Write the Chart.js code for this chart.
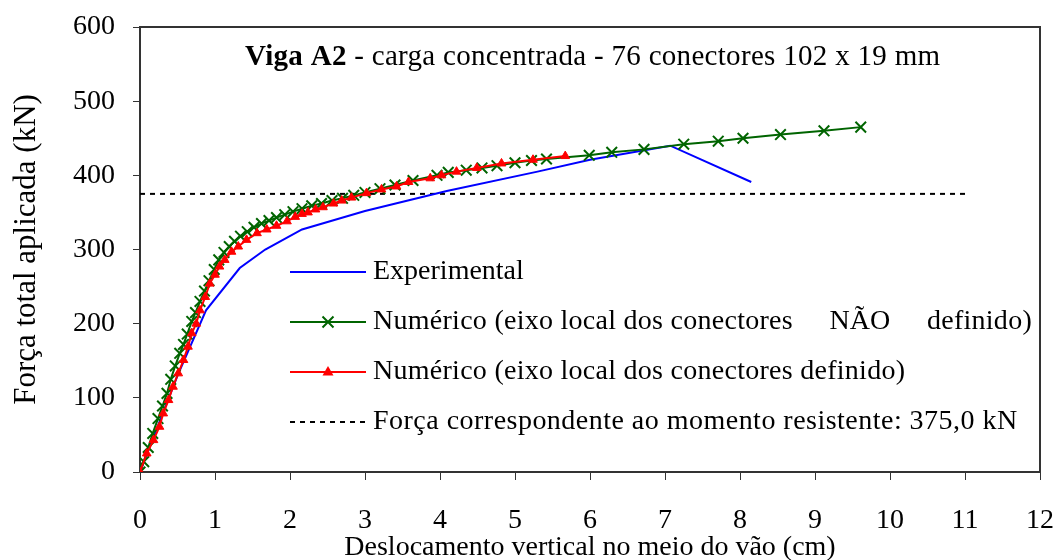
<!DOCTYPE html>
<html>
<head>
<meta charset="utf-8">
<script src="https://cdn.jsdelivr.net/npm/chart.js@4.4.1/dist/chart.umd.min.js"></script>
<style>
  html, body { margin: 0; padding: 0; background: #fff; }
  #wrap { width: 1057px; height: 560px; }
</style>
</head>
<body>
<div id="wrap"><canvas id="chart" width="1057" height="560"></canvas></div>
<script>
// values
var expX = [0, 0.5, 0.88, 1.33, 1.67, 2.16, 3.0, 4.09, 5.3, 6.0, 7.07, 8.15];
var expY = [0, 130, 218, 275, 300, 327, 352, 379, 405, 421, 440, 391];

var nnX = [0, 0.05, 0.11, 0.17, 0.24, 0.3, 0.36, 0.41, 0.47, 0.53, 0.58, 0.63, 0.69, 0.74, 0.8, 0.86, 0.92, 0.99, 1.05, 1.12, 1.19, 1.26, 1.34, 1.43, 1.52, 1.62, 1.72, 1.82, 1.93, 2.04, 2.16, 2.29, 2.42, 2.56, 2.7, 2.85, 3.0, 3.2, 3.4, 3.64, 3.96, 4.11, 4.35, 4.56, 4.76, 5.0, 5.22, 5.42, 5.99, 6.29, 6.72, 7.25, 7.71, 8.04, 8.54, 9.12, 9.61];
var nnY = [0, 14, 33, 52, 72, 89, 106, 125, 143, 160, 172, 186, 203, 215, 230, 244, 258, 273, 286, 296, 304, 311, 318, 324, 330, 335, 339, 343, 347, 351, 355, 359, 362, 366, 369, 373, 377, 382, 387, 393, 400, 404, 407, 410, 413, 417, 420, 422, 427, 431, 435, 442, 446, 450, 455, 460, 465];

var ndX = [0, 0.09, 0.18, 0.26, 0.31, 0.38, 0.44, 0.51, 0.58, 0.64, 0.69, 0.75, 0.8, 0.87, 0.93, 1.0, 1.06, 1.13, 1.22, 1.31, 1.42, 1.56, 1.69, 1.82, 1.96, 2.07, 2.16, 2.24, 2.34, 2.44, 2.58, 2.69, 2.82, 3.02, 3.22, 3.42, 3.58, 3.87, 4.02, 4.22, 4.49, 4.82, 5.24, 5.67];
var ndY = [0, 25, 43, 61, 79, 97, 115, 133, 151, 169, 187, 200, 218, 236, 254, 266, 277, 286, 297, 304, 313, 322, 327, 332, 338, 344, 348, 350, 354, 357, 362, 366, 370, 376, 381, 385, 391, 396, 400, 405, 410, 416, 421, 426];

var limitX = [0, 11];
var limitY = [375, 375];

var seriesNames = [
  "Experimental",
  "Numérico (eixo local dos conectores NÃO definido)",
  "Numérico (eixo local dos conectores definido)",
  "Força correspondente ao momento resistente: 375,0 kN"
];
var xTicks = [0, 1, 2, 3, 4, 5, 6, 7, 8, 9, 10, 11, 12];
var yTicks = [0, 100, 200, 300, 400, 500, 600];

var FONT = '"Liberation Serif", "Times New Roman", serif';
var BLUE = "#0000ff", GREEN = "#006400", RED = "#ff0000";

function pts(xs, ys) {
  return xs.map(function (x, i) { return { x: x, y: ys[i] }; });
}

// widen a string a little (the original text is set looser than Liberation Serif)
function spacedText(ctx, text, x, y, ls) {
  ctx.letterSpacing = ls + "px";
  ctx.fillText(text, x, y);
  var w = ctx.measureText(text).width;
  ctx.letterSpacing = "0px";
  return w;
}

// box round the plot, title and legend inside the plot
var boxPlugin = {
  id: "box",
  beforeDatasetsDraw: function (chart) {
    var a = chart.chartArea, ctx = chart.ctx;
    ctx.save();
    ctx.strokeStyle = "#333";
    ctx.lineWidth = 2;
    ctx.strokeRect(a.left, a.top, a.right - a.left, a.bottom - a.top);
    ctx.restore();
  },
  afterDraw: function (chart) {
    var ctx = chart.ctx;
    ctx.save();
    ctx.fillStyle = "#000";
    ctx.textBaseline = "alphabetic";
    ctx.font = "bold 29px " + FONT;
    var w = spacedText(ctx, "Viga A2", 245, 65, 0.3);
    ctx.font = "29px " + FONT;
    spacedText(ctx, " - carga concentrada - 76 conectores 102 x 19 mm", 245 + w, 65, 0.3);

    // legend
    var rows = [272, 322, 372, 422];
    var x0 = 290, x1 = 366, mx = 328, tx = 373;
    ctx.font = "28px " + FONT;
    ctx.textBaseline = "middle";
    for (var i = 0; i < 4; i++) {
      var y = rows[i];
      ctx.beginPath();
      ctx.lineWidth = 2;
      if (i === 3) {
        ctx.setLineDash([5, 5]);
        ctx.strokeStyle = "#000";
      } else {
        ctx.setLineDash([]);
        ctx.strokeStyle = [BLUE, GREEN, RED][i];
      }
      ctx.moveTo(x0, y);
      ctx.lineTo(x1, y);
      ctx.stroke();
      ctx.setLineDash([]);
      if (i === 1) {
        ctx.beginPath();
        ctx.strokeStyle = GREEN;
        ctx.moveTo(mx - 5.5, y - 5.5); ctx.lineTo(mx + 5.5, y + 5.5);
        ctx.moveTo(mx - 5.5, y + 5.5); ctx.lineTo(mx + 5.5, y - 5.5);
        ctx.stroke();
      }
      if (i === 2) {
        ctx.beginPath();
        ctx.fillStyle = RED;
        ctx.moveTo(mx, y - 6); ctx.lineTo(mx + 5.5, y + 3.5); ctx.lineTo(mx - 5.5, y + 3.5);
        ctx.closePath();
        ctx.fill();
      }
      ctx.fillStyle = "#000";
      if (i === 1) {
        // wider gaps round "NÃO": the line ends by the frame in the original
        var pre = "Numérico (eixo local dos conectores ";
        var post = " definido)";
        var a = spacedText(ctx, pre, tx, y, 0.27);
        ctx.letterSpacing = "0.27px";
        var c = ctx.measureText(post).width;
        ctx.letterSpacing = "0px";
        var natural = ctx.measureText("NÃO").width;
        var room = 1032 - tx - a - c;
        var gap = Math.max(0, (room - natural) / 2);
        ctx.fillText("NÃO", tx + a + gap, y);
        spacedText(ctx, post, tx + a + natural + 2 * gap, y, 0.27);
      } else {
        spacedText(ctx, seriesNames[i], tx, y, [0, 0, 0.27, 0.48][i]);
      }
    }
    ctx.restore();
  }
};

var ctx = document.getElementById("chart").getContext("2d");
var chart = new Chart(ctx, {
  type: "line",
  data: {
    datasets: [
      {
        label: seriesNames[0],
        data: pts(expX, expY),
        borderColor: BLUE,
        borderWidth: 2,
        pointRadius: 0,
        order: 2
      },
      {
        label: seriesNames[1],
        data: pts(nnX, nnY),
        borderColor: GREEN,
        borderWidth: 2,
        pointStyle: "crossRot",
        pointRadius: 7.5,
        pointBorderWidth: 2,
        pointBorderColor: GREEN,
        order: 1
      },
      {
        label: seriesNames[2],
        data: pts(ndX, ndY),
        borderColor: RED,
        borderWidth: 2,
        pointStyle: "triangle",
        pointRadius: 5,
        pointBackgroundColor: RED,
        pointBorderColor: RED,
        pointBorderWidth: 1,
        order: 0
      },
      {
        label: seriesNames[3],
        data: pts(limitX, limitY),
        borderColor: "#000",
        borderWidth: 2,
        borderDash: [5, 5],
        pointRadius: 0,
        order: 3
      }
    ]
  },
  options: {
    responsive: false,
    animation: false,
    layout: { padding: { left: 0, right: 17, top: 27, bottom: 0 } },
    plugins: {
      legend: { display: false },
      tooltip: { enabled: false }
    },
    scales: {
      x: {
        type: "linear",
        min: 0,
        max: 12,
        afterBuildTicks: function (s) { s.ticks = xTicks.map(function (v) { return { value: v }; }); },
        afterFit: function (s) {
          s.height = 88;
          s.paddingLeft = 0;
          s.paddingRight = 0;
        },
        ticks: { color: "#000", font: { family: FONT, size: 28 }, padding: 24, maxRotation: 0 },
        grid: { drawOnChartArea: false, drawTicks: true, tickLength: 8, color: "#333", lineWidth: 1 },
        border: { display: true, color: "#333", width: 2 },
        title: {
          display: true,
          text: "Deslocamento vertical no meio do vão (cm)",
          color: "#000",
          font: { family: FONT, size: 28, lineHeight: 1 },
          padding: { top: 0, bottom: -2 }
        }
      },
      y: {
        min: 0,
        max: 600,
        afterBuildTicks: function (s) { s.ticks = yTicks.map(function (v) { return { value: v }; }); },
        afterFit: function (s) {
          s.width = 140;
          s.paddingTop = 0;
          s.paddingBottom = 0;
        },
        ticks: { color: "#000", font: { family: FONT, size: 28 }, padding: 18 },
        grid: { drawOnChartArea: false, drawTicks: true, tickLength: 7, color: "#333", lineWidth: 1 },
        border: { display: true, color: "#333", width: 2 },
        title: {
          display: true,
          text: "Força total aplicada (kN)",
          color: "#000",
          font: { family: FONT, size: 31, lineHeight: 1.2 },
          padding: { top: 8, bottom: 0 }
        }
      }
    }
  },
  plugins: [boxPlugin]
});
</script>
</body>
</html>
